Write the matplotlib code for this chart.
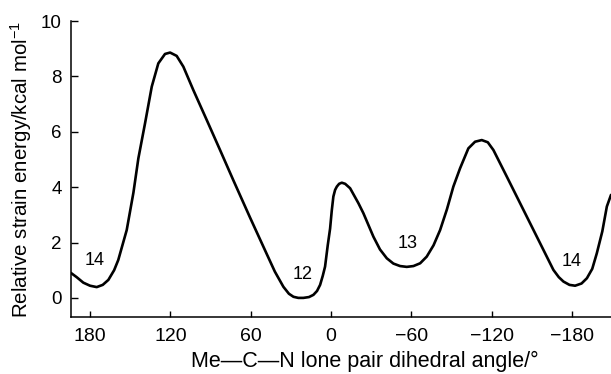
import matplotlib
matplotlib.use('Agg')
import matplotlib.pyplot as plt

plt.rcParams['font.family'] = ['Liberation Sans', 'DejaVu Sans']
plt.rcParams['mathtext.fontset'] = 'custom'
plt.rcParams['mathtext.rm'] = 'Liberation Sans'
plt.rcParams['mathtext.it'] = 'Liberation Sans:italic'
plt.rcParams['mathtext.bf'] = 'Liberation Sans:bold'

# dihedral angle (deg) and relative strain energy (kcal/mol)
angle = [194.2, 190.0, 185.0, 180.0, 175.0, 170.5, 166.3, 162.0, 158.9, 152.6,
         147.6, 143.9, 138.9, 133.9, 129.0, 124.0, 120.2, 115.3, 110.3, 102.9,
         92.9, 82.9, 73.0, 60.5, 48.0, 42.0, 35.6, 31.5, 28.1, 24.5,
         20.7, 16.5, 13.2, 10.5, 8.2, 6.2, 4.5, 2.5, 0.75, -0.5,
         -1.7, -3.0, -4.3, -6.0, -8.0, -10.5, -14.2, -20.4, -24.1, -31.6,
         -36.5, -41.6, -46.5, -51.5, -56.5, -61.5, -66.5, -71.4, -76.5, -81.4,
         -86.5, -91.3, -96.3, -102.5, -107.5, -112.5, -117.0, -121.2, -131.2, -143.6,
         -156.1, -166.0, -170.0, -173.5, -178.0, -182.2, -187.0, -191.0, -195.0, -198.4,
         -202.5, -205.9, -209.0]
energy = [0.90, 0.75, 0.55, 0.44, 0.39, 0.47, 0.65, 1.00, 1.37, 2.45,
          3.80, 5.04, 6.31, 7.63, 8.47, 8.81, 8.86, 8.74, 8.35, 7.51,
          6.43, 5.34, 4.25, 2.90, 1.58, 0.95, 0.40, 0.15, 0.04, 0.00,
          0.00, 0.03, 0.11, 0.25, 0.47, 0.80, 1.13, 1.90, 2.50, 3.15,
          3.66, 3.90, 4.02, 4.12, 4.16, 4.12, 3.96, 3.42, 3.06, 2.21,
          1.75, 1.43, 1.24, 1.15, 1.12, 1.15, 1.25, 1.49, 1.90, 2.45,
          3.20, 4.02, 4.68, 5.40, 5.64, 5.70, 5.62, 5.34, 4.38, 3.18,
          1.97, 1.01, 0.75, 0.59, 0.47, 0.44, 0.52, 0.71, 1.05, 1.61,
          2.40, 3.30, 3.72]

labels = ['14', '12', '13', '14']
label_angle = [176.3, 21.4, -56.8, -179.5]
label_energy = [1.34, 0.86, 1.97, 1.30]

xticks = [180, 120, 60, 0, -60, -120, -180]
xticklabels = ['180', '120', '60', '0', '\u221260', '\u2212120', '\u2212180']
yticks = [0, 2, 4, 6, 8, 10]

fig = plt.figure(figsize=(6.11, 3.74), dpi=100)
ax = fig.add_axes([71/611, 57/374, 540/611, 296/374])

ax.plot(angle, energy, color='black', lw=1.9, solid_joinstyle='round',
        solid_capstyle='round')

for t, a, e in zip(labels, label_angle, label_energy):
    ax.text(a, e, t, ha='center', va='center', fontsize=13)

ax.set_xlim(194.2, -209.0)
ax.set_ylim(-0.69, 10)
ax.set_xticks(xticks)
ax.set_xticklabels(xticklabels)
ax.set_yticks(yticks)

for side in ['top', 'right']:
    ax.spines[side].set_visible(False)
for side in ['left', 'bottom']:
    ax.spines[side].set_linewidth(1.1)

ax.tick_params(axis='x', direction='in', length=4, width=1.0, pad=8, labelsize=14)
ax.tick_params(axis='y', direction='in', length=5, width=1.0, pad=6.5, labelsize=13.5)

ax.set_xlabel('Me\u2014C\u2014N lone pair dihedral angle/\u00b0', fontsize=15.5)
ax.xaxis.set_label_coords(0.545, -0.115)
ax.set_ylabel('Relative strain energy/kcal mol$^{-1}$', fontsize=14.8)
ax.yaxis.set_label_coords(-0.068, 0.5)

fig.savefig('out.png', dpi=100)
